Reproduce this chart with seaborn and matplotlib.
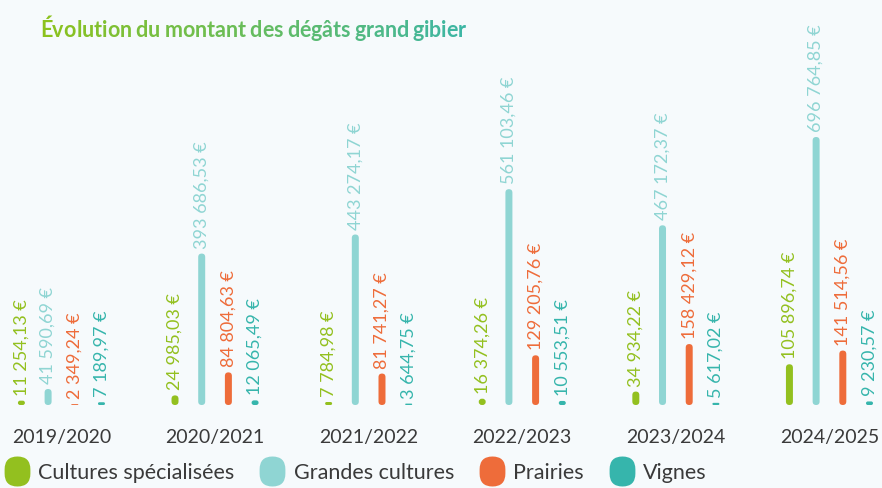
import numpy as np
import pandas as pd
import matplotlib
matplotlib.use("Agg")
import matplotlib.pyplot as plt
import seaborn as sns
from matplotlib.patches import FancyBboxPatch, BoxStyle
from matplotlib.lines import Line2D
from matplotlib.colors import to_rgb

# data
saisons = ["2019/2020", "2020/2021", "2021/2022", "2022/2023", "2023/2024", "2024/2025"]
types = ["Cultures spécialisées", "Grandes cultures", "Prairies", "Vignes"]
cultures_specialisees = [11254.13, 24985.03, 7784.98, 16374.26, 34934.22, 105896.74]
grandes_cultures = [41590.69, 393686.53, 443274.17, 561103.46, 467172.37, 696764.85]
prairies = [2349.24, 84804.63, 81741.27, 129205.76, 158429.12, 141514.56]
vignes = [7189.97, 12065.49, 3644.75, 10553.51, 5617.02, 9230.57]
couleurs = ["#93c01f", "#8fd5d3", "#ee6c3a", "#36b5ac"]

series = [cultures_specialisees, grandes_cultures, prairies, vignes]
df = pd.DataFrame({
    "saison": saisons * 4,
    "type": [t for t in types for _ in saisons],
    "montant": [v for s in series for v in s],
})

def euro(v):
    ent, dec = f"{v:,.2f}".split(".")
    return ent.replace(",", " ") + "," + dec + " €"

sns.set_theme(style="white")
plt.rcParams["font.family"] = ["Lato", "DejaVu Sans"]
bg = "#f6fafc"
gris = "#3a3a3a"

W, H = 882, 488
fig = plt.figure(figsize=(W / 100, H / 100), dpi=100, facecolor=bg)
base_px = 83
ax = fig.add_axes([0, base_px / H, 1, (H - base_px) / H])
ax.set_facecolor(bg)

sns.barplot(data=df, x="saison", y="montant", hue="type", palette=couleurs,
            width=0.695, gap=0.738, ax=ax, legend=False, saturation=1)

xmin, xmax = -0.400, 5.342
ytop = (H - base_px) * max(grandes_cultures) / 268
ax.set_xlim(xmin, xmax)
ax.set_ylim(0, ytop)
for s in ax.spines.values():
    s.set_visible(False)
ax.set_yticks([])
ax.set_xlabel("")
ax.set_ylabel("")
ax.tick_params(axis="x", length=0, pad=17, labelsize=14, labelcolor=gris)

# rounded bars + value labels
px_x = W / (xmax - xmin)
px_y = (H - base_px) / ytop
for p in list(ax.patches):
    x, y, w, h = p.get_x(), p.get_y(), p.get_width(), p.get_height()
    col = p.get_facecolor()
    p.remove()
    rx = w / 2
    ry = rx * px_x / px_y
    if ry > h / 2:
        ry = h / 2
        rx = ry * px_y / px_x
    fb = FancyBboxPatch((x, y), w, h, boxstyle=f"round,pad=0,rounding_size={rx}",
                        mutation_aspect=ry / rx, facecolor=col, edgecolor="none")
    ax.add_patch(fb)
    ax.annotate(euro(h), (x + w / 2, y + h), xytext=(0, 5), textcoords="offset pixels",
                rotation=90, ha="center", va="bottom", color=col, fontsize=13)

# title with a green -> teal gradient
titre = "Évolution du montant des dégâts grand gibier"
c0, c1 = np.array(to_rgb("#8cc21e")), np.array(to_rgb("#3db6a4"))
last = None
espace = False
n = len(titre)
for i, ch in enumerate(titre):
    if ch == " ":
        espace = True
        continue
    col = c0 + (c1 - c0) * i / (n - 1)
    if last is None:
        last = fig.text(40 / W, 1 - 37 / H, ch, color=col, fontsize=15.5,
                        fontweight="bold", ha="left", va="baseline")
    else:
        last = ax.annotate(ch, xy=(1, 0), xycoords=last, xytext=(4 if espace else 0, 0),
                           textcoords="offset pixels", color=col, fontsize=15.5,
                           fontweight="bold", ha="left", va="bottom",
                           annotation_clip=False)
    espace = False

# legend with pill markers
pill = BoxStyle.Round(pad=0, rounding_size=0.43)(-0.43, -0.5, 0.86, 1.0, 1.0)
handles = [Line2D([], [], linestyle="none", marker=pill, markersize=21.6,
                  markerfacecolor=c, markeredgecolor="none") for c in couleurs]
leg = fig.legend(handles, types, loc="center left", bbox_to_anchor=(4 / W, 1 - 473 / H),
                 ncol=4, frameon=False, fontsize=15.5, handlelength=1.2,
                 handletextpad=0.4, columnspacing=1.15, borderpad=0, borderaxespad=0)
for t in leg.get_texts():
    t.set_color(gris)

fig.savefig("out.png", dpi=100, facecolor=bg)
